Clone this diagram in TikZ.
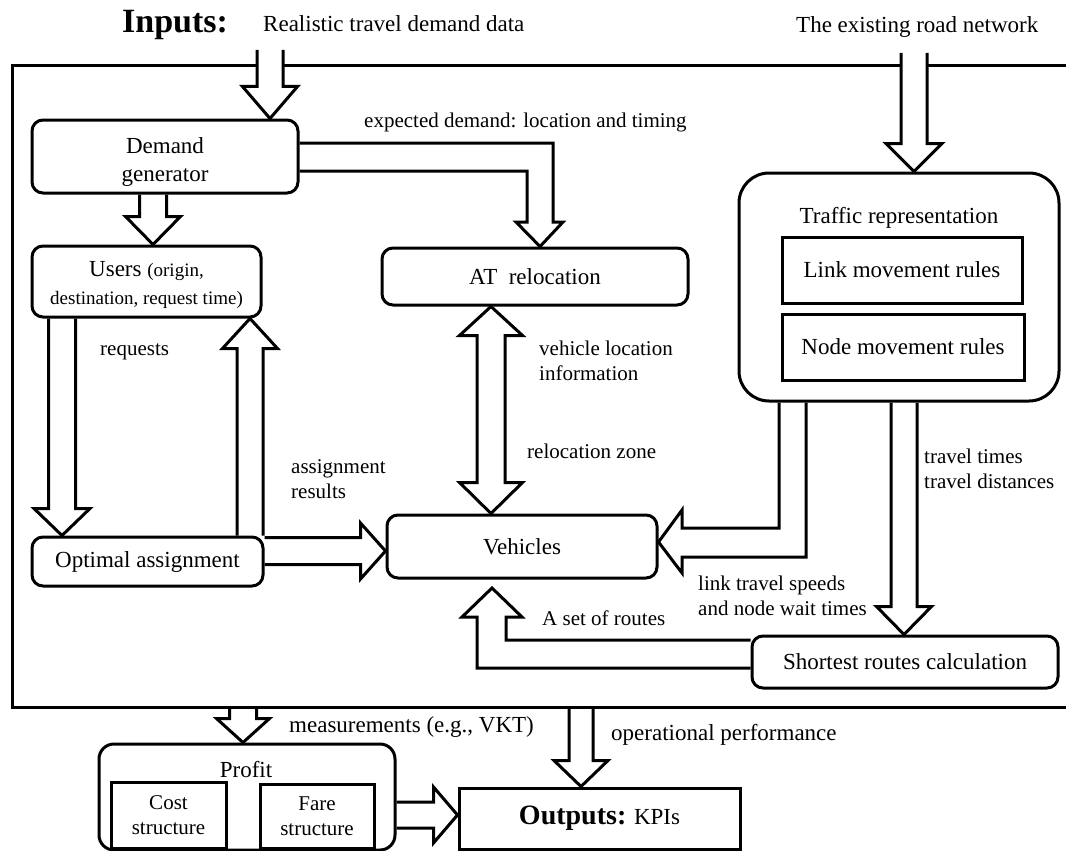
\documentclass[tikz,border=0pt]{standalone}
\usepackage{fontspec}
\setmainfont{Liberation Serif}
\usetikzlibrary{calc}
\newcommand{\twol}[2]{\begin{tabular}[t]{@{}l@{}}#1\\#2\end{tabular}}
\newcommand{\smfont}{\fontsize{19}{25}\selectfont}
% fat hollow arrow: #1 start, #2 tip, #3 half shaft, #4 half head, #5 head length
\newcommand{\fatarr}[5]{%
  \coordinate (fa-s) at (#1);
  \coordinate (fa-t) at (#2);
  \coordinate (fa-b) at ($(fa-t)!#5!(fa-s)$);
  \draw[fat] ($(fa-s)!#3!90:(fa-t)$) -- ($(fa-b)!#3!-90:(fa-s)$) -- ($(fa-b)!#4!-90:(fa-s)$) -- (fa-t)
     -- ($(fa-b)!#4!90:(fa-s)$) -- ($(fa-b)!#3!90:(fa-s)$) -- ($(fa-s)!#3!-90:(fa-t)$);
}
\tikzset{
  box/.style={draw, line width=3pt, rounded corners=11pt, align=center, inner sep=0pt},
  sqbox/.style={draw, line width=3pt, align=center, inner sep=0pt},
  lbl/.style={inner sep=0pt, anchor=base west, font=\fontsize{21}{25.5}\selectfont},
  biglbl/.style={lbl, font=\fontsize{23}{27}\selectfont},
  fat/.style={line width=3pt, line join=miter, miter limit=10},
}
\begin{document}
\begin{tikzpicture}[x=1pt,y=-1pt,font=\fontsize{23}{28}\selectfont]
\useasboundingbox (0,0) rectangle (1066,851);
\clip (0,0) rectangle (1066,851);

% free ends of the input / output arrows
\coordinate (inA) at (270,50);
\coordinate (inB) at (914,53);
\coordinate (fb1) at (243,707);
\coordinate (fb2) at (581,707);

% outer frame (open where the input arrows pass)
\draw[line width=3pt] ($(inA |- 0,66)+(-13,0)$) -- (12,66) -- (12,707) -- (1100,707) -- (1100,66) -- ($(inB |- 0,66)+(13,0)$);
\draw[line width=3pt] ($(inA |- 0,66)+(13,0)$) -- ($(inB |- 0,66)+(-13,0)$);

% nodes
\node[box, minimum width=266pt, minimum height=73pt] (dg) at (165,156.5) {\rule{0pt}{27pt}Demand\\generator};
\node[box, minimum width=229pt, minimum height=71pt] (users) at (146.5,281.5)
  {\rule{0pt}{23pt}Users {\smfont(origin,}\\{\smfont destination, request time)}};
\node[box, minimum width=306pt, minimum height=57pt] (at) at (535,276.5) {AT~ relocation};
\node[box, rounded corners=30pt, minimum width=320pt, minimum height=228pt] (tr) at (899,287) {};
\node[anchor=base, inner sep=0pt] (trt) at (899,223) {Traffic representation};
\node[sqbox, minimum width=240pt, minimum height=66pt] (link) at (902,270) {Link movement rules};
\node[sqbox, minimum width=242pt, minimum height=66pt] (nmr) at (903,347) {Node movement rules};
\node[box, minimum width=231pt, minimum height=49pt] (oa) at (147.5,561.5) {Optimal assignment};
\node[box, minimum width=270pt, minimum height=63pt] (veh) at (522,546.5) {Vehicles};
\node[box, minimum width=306pt, minimum height=52pt] (src) at (905,662) {Shortest routes calculation};
\node[box, rounded corners=15pt, minimum width=296pt, minimum height=106pt] (profit) at (247,797) {};
\node[anchor=base, inner sep=0pt] (pt) at (246,777) {Profit};
\node[sqbox, minimum width=115pt, minimum height=66pt, font=\fontsize{21}{25}\selectfont] (cost) at (168.5,815) {Cost\\structure};
\node[sqbox, minimum width=114pt, minimum height=64pt, font=\fontsize{21}{25}\selectfont] (fare) at (317,816) {Fare\\structure};
\node[sqbox, minimum width=281pt, minimum height=61pt] (outputs) at (599.5,818.5)
  {{\fontsize{28}{32}\selectfont\bfseries Outputs:} KPIs};

% titles
\node[lbl, font=\fontsize{34}{40}\selectfont\bfseries] (inputs) at (122,33) {Inputs:};
\node[biglbl] (rtd) at (263,32) {Realistic travel demand data};
\node[biglbl] (rn) at (796,33) {The existing road network};

% straight fat arrows
\fatarr{inA}{inA |- dg.north}{13pt}{27.5pt}{32pt}
\fatarr{inB}{inB |- tr.north}{13pt}{28pt}{28pt}
\fatarr{153,0 |- dg.south}{153,0 |- users.north}{13.5pt}{27.5pt}{28pt}
\fatarr{62,0 |- users.south}{62,0 |- oa.north}{13.5pt}{28pt}{27pt}
\fatarr{250,0 |- oa.north}{250,0 |- users.south}{13pt}{27.5pt}{30pt}
\fatarr{oa.east |- 0,551}{veh.west |- 0,551}{13.5pt}{28pt}{25pt}
\fatarr{904,0 |- tr.south}{904,0 |- src.north}{13pt}{27.5pt}{28pt}
\fatarr{fb1}{fb1 |- profit.north}{13.5pt}{26.5pt}{24pt}
\fatarr{fb2}{fb2 |- outputs.north}{12pt}{27pt}{26pt}
\fatarr{profit.east |- 0,815}{outputs.west |- 0,815}{13pt}{28pt}{24pt}

% bent arrow: expected demand
\draw[fat] (dg.east |- 0,143) -- (553,143) -- (553,222) -- (563,222) -- (540,0 |- at.north)
  -- (516,222) -- (527,222) -- (527,171) -- (dg.east |- 0,171);

% double arrow AT <-> Vehicles
\coordinate (dt) at (491,0 |- at.south);
\coordinate (db) at (491,0 |- veh.north);
\draw[fat] (dt) -- ($(dt)+(31.5,29)$) -- ($(dt)+(14,29)$) -- ($(db)+(14,-31)$) -- ($(db)+(31.5,-31)$)
  -- (db) -- ($(db)+(-31.5,-31)$) -- ($(db)+(-14,-31)$) -- ($(dt)+(-14,29)$) -- ($(dt)+(-31.5,29)$) -- cycle;

% bent arrow: traffic representation -> vehicles
\draw[fat] (779,0 |- tr.south) -- (779,528) -- (682,528) -- (682,510) -- (veh.east |- 0,542)
  -- (682,573) -- (682,557) -- (806,557) -- (806,0 |- tr.south);

% bent arrow: shortest routes -> vehicles
\coordinate (rt) at (492,588);
\draw[fat] (src.west |- 0,640) -- (506,640) -- (506,617) -- (522,617) -- (rt)
  -- (462,617) -- (477,617) -- (477,668) -- (src.west |- 0,668);

% labels
\node[lbl] (l1) at (364,127) {expected demand: location and timing};
\node[lbl] (l2) at (100,355) {requests};
\node[lbl] (l3) at (291,473) {\twol{assignment}{results}};
\node[lbl] (l4) at (539,355) {\twol{vehicle location}{information}};
\node[lbl] (l5) at (527,458) {relocation zone};
\node[lbl] (l6) at (924,463) {\twol{travel times}{travel distances}};
\node[lbl] (l7) at (698,590) {\twol{link travel speeds}{and node wait times}};
\node[lbl] (l8) at (542,625) {A set of routes};
\node[biglbl] (l9) at (289,732) {measurements (e.g., VKT)};
\node[biglbl] (l10) at (611,740) {operational performance};
\end{tikzpicture}
\end{document}
